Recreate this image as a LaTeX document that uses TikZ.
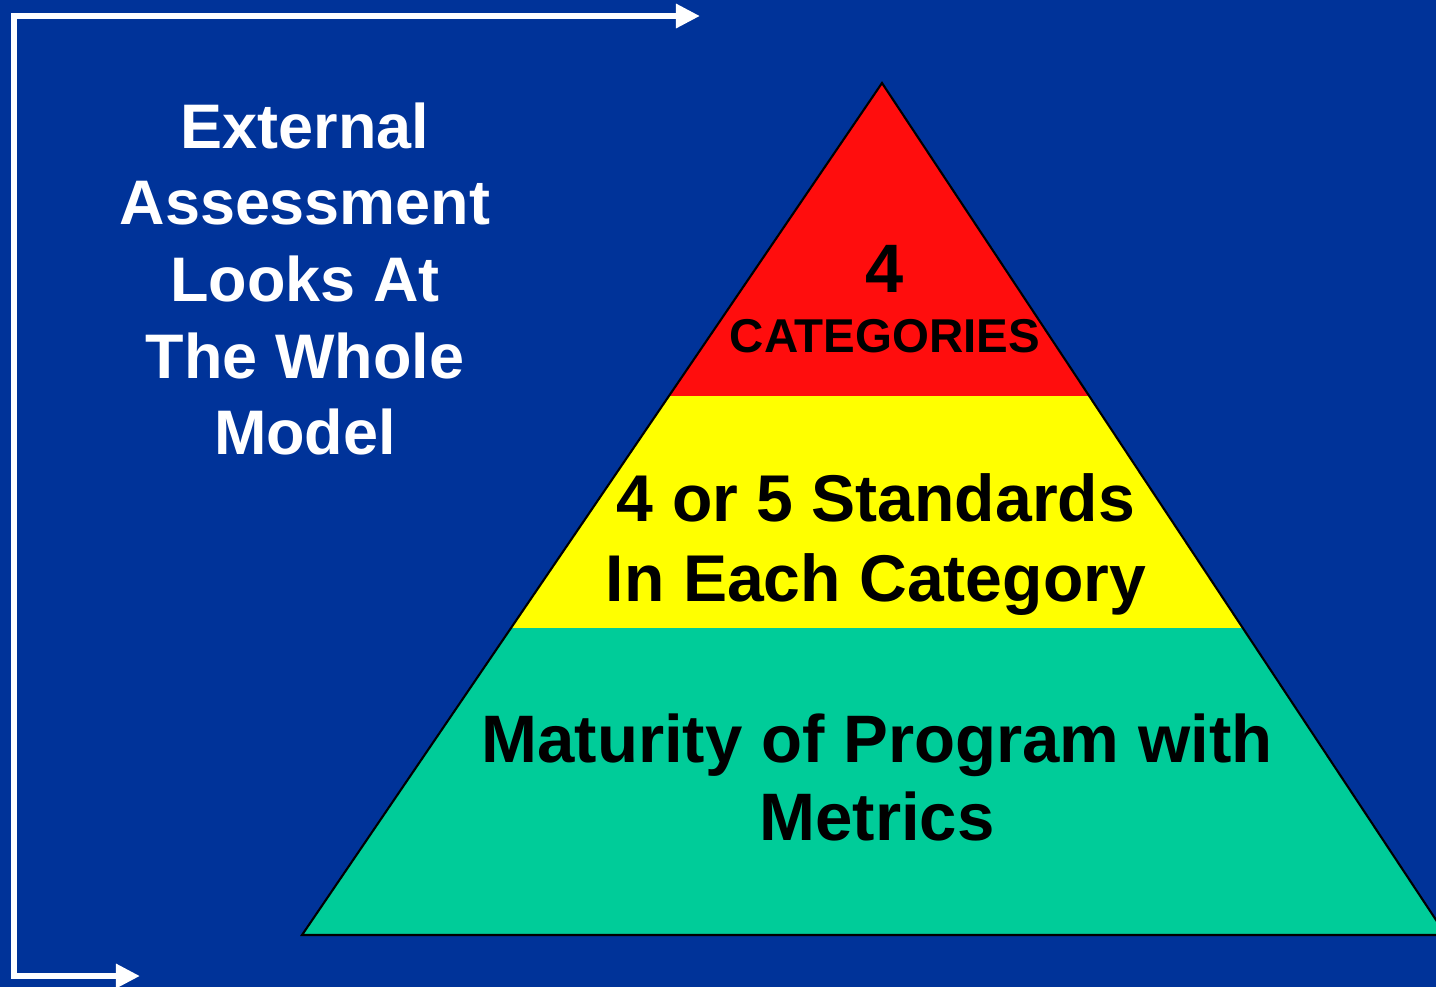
\documentclass[tikz,border=0pt]{standalone}
\usepackage{fontspec}
\setmainfont{Liberation Sans}
\usetikzlibrary{calc,arrows.meta,positioning}

\definecolor{slideblue}{HTML}{003399}
\definecolor{topred}{HTML}{FF0D0D}
\definecolor{midyellow}{HTML}{FFFF00}
\definecolor{basegreen}{HTML}{00CC99}

\begin{document}
\begin{tikzpicture}[x=0.01cm,y=-0.01cm,
		bracket/.style={draw=white,line width=1.9pt,{Triangle[length=0.24cm,width=0.23cm]}-{Triangle[length=0.24cm,width=0.23cm]}},
		whitetext/.style={text=white,font=\bfseries\fontsize{17.9}{21.8}\selectfont,align=center,inner sep=0pt},
		blacktext/.style={text=black,font=\bfseries,align=center,inner sep=0pt}]
		\fill[slideblue] (0,0) rectangle (1436,987);
		\useasboundingbox (0,0) rectangle (1436,987);
		\clip (0,0) rectangle (1436,987);
		% pyramid
		\coordinate (apex) at (882,83);
		\coordinate (bl) at (302,935);
		\coordinate (br) at (1446,935);
		\coordinate (redl) at ($(apex)!0.3674!(bl)$);
		\coordinate (redr) at ($(apex)!0.3674!(br)$);
		\coordinate (yell) at ($(apex)!0.6397!(bl)$);
		\coordinate (yelr) at ($(apex)!0.6397!(br)$);
		\fill[topred] (apex) -- (redr) -- (redl) -- cycle;
		\fill[midyellow] (redl) -- (redr) -- (yelr) -- (yell) -- cycle;
		\fill[basegreen] (yell) -- (yelr) -- (br) -- (bl) -- cycle;
		\draw[black,line width=0.6pt,line join=miter] (apex) -- (br) -- (bl) -- cycle;
		% labels
		\node[blacktext,anchor=base,font=\bfseries\fontsize{19.5}{22}\selectfont] (catnum) at (885,292) {4};
		\node[blacktext,anchor=base,font=\bfseries\fontsize{13.5}{16}\selectfont] (catlabel) at (885,352) {CATEGORIES};
		\node[blacktext,anchor=north,font=\bfseries\fontsize{18.8}{22.8}\selectfont] (standards) at (876,473) {4 or 5 Standards\\In Each Category};
		\node[blacktext,anchor=north,font=\bfseries\fontsize{19.1}{22.2}\selectfont] (maturity) at (877,713) {Maturity of Program with\\Metrics};
		\node[whitetext,anchor=north] (external) at (305,102) {External\\Assessment\\Looks At\\The Whole\\Model};
		% bracket
		\coordinate (lowend) at (140,976);
		\coordinate (lowcorner) at (14,976);
		\coordinate (topcorner) at (14,16);
		\coordinate (topend) at (700,16);
		\draw[bracket] (lowend) -- (lowcorner) -- (topcorner) -- (topend);
\end{tikzpicture}
\end{document}
